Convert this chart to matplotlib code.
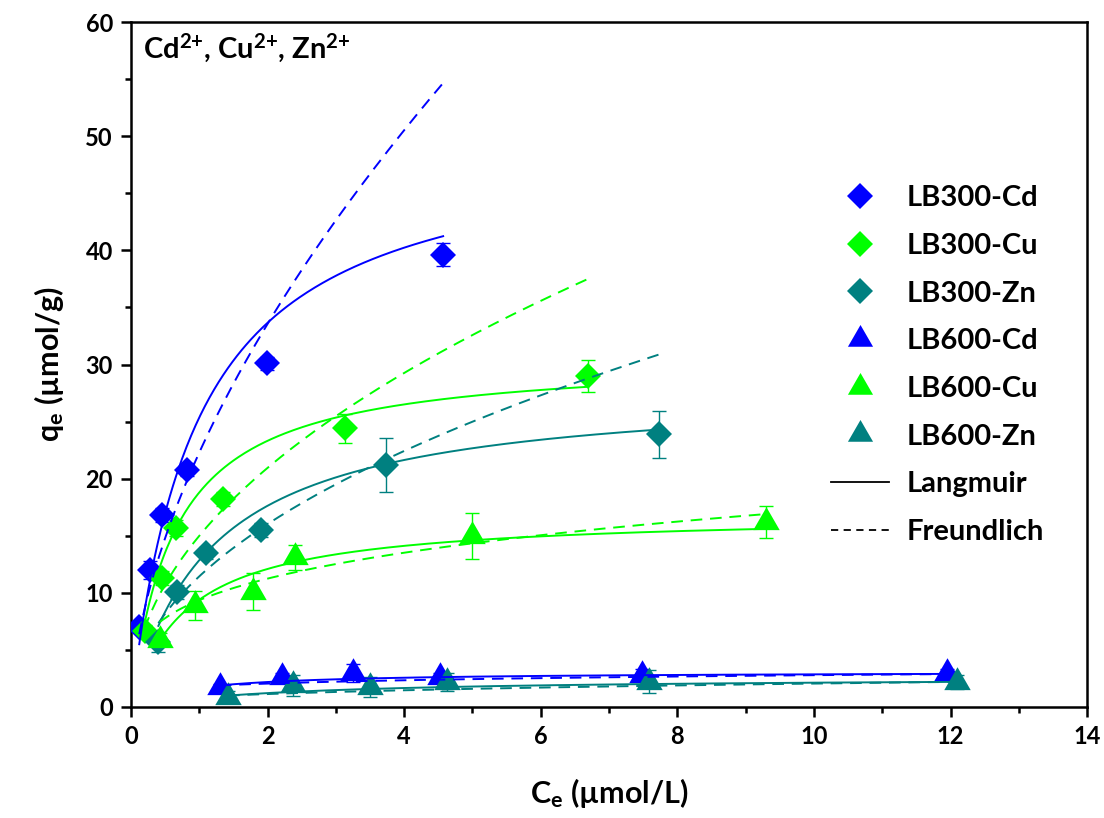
import numpy as np
import matplotlib
matplotlib.use('Agg')
import matplotlib.pyplot as plt
from matplotlib.lines import Line2D

plt.rcParams['font.family'] = ['Lato', 'DejaVu Sans']
plt.rcParams['font.weight'] = 'bold'
plt.rcParams['axes.labelweight'] = 'bold'
plt.rcParams['mathtext.fontset'] = 'custom'
plt.rcParams['mathtext.rm'] = 'Lato:bold'
plt.rcParams['mathtext.it'] = 'Lato:bold'
plt.rcParams['mathtext.bf'] = 'Lato:bold'

# Ölçüm noktaları (Ce, qe, hata)
lb300_cd_x = [0.12, 0.28, 0.45, 0.82, 1.99, 4.57]
lb300_cd_y = [7.0, 12.0, 16.8, 20.8, 30.1, 39.6]
lb300_cd_e = [0.4, 0.8, 0.6, 0.6, 0.6, 1.0]

lb300_cu_x = [0.20, 0.45, 0.66, 1.35, 3.13, 6.69]
lb300_cu_y = [6.7, 11.3, 15.7, 18.2, 24.4, 29.0]
lb300_cu_e = [0.5, 0.6, 0.7, 0.6, 1.3, 1.4]

lb300_zn_x = [0.40, 0.67, 1.10, 1.90, 3.73, 7.73]
lb300_zn_y = [5.7, 10.1, 13.5, 15.5, 21.2, 23.9]
lb300_zn_e = [0.9, 0.6, 0.5, 0.6, 2.4, 2.05]

lb600_cd_x = [1.30, 2.21, 3.25, 4.52, 7.48, 11.95]
lb600_cd_y = [1.75, 2.6, 3.0, 2.6, 2.8, 3.0]
lb600_cd_e = [0.3, 0.4, 0.8, 0.4, 0.5, 0.3]

lb600_cu_x = [0.42, 0.94, 1.79, 2.40, 5.00, 9.30]
lb600_cu_y = [5.9, 8.9, 10.1, 13.1, 15.0, 16.2]
lb600_cu_e = [0.6, 1.3, 1.6, 1.1, 2.0, 1.4]

lb600_zn_x = [1.42, 2.37, 3.50, 4.63, 7.58, 12.09]
lb600_zn_y = [0.9, 1.9, 1.75, 2.2, 2.2, 2.2]
lb600_zn_e = [0.5, 0.9, 0.9, 0.8, 1.0, 0.6]

# Fit parametreleri: Langmuir (qm, KL), Freundlich (KF, 1/n)
langmuir_qm = [50.0, 30.7, 28.0, 3.1, 16.95, 2.62]
langmuir_kl = [1.03, 1.58, 0.85, 1.2, 1.245, 0.435]
freundlich_kf = [22.3, 15.0, 11.45, 1.8, 9.36, 0.88]
freundlich_n_inv = [0.59, 0.482, 0.485, 0.19, 0.265, 0.368]

labels = ['LB300-Cd', 'LB300-Cu', 'LB300-Zn', 'LB600-Cd', 'LB600-Cu', 'LB600-Zn']
colors = ['#0000ff', '#00ff00', '#008080', '#0000ff', '#00ff00', '#008080']

series = [
    (lb300_cd_x, lb300_cd_y, lb300_cd_e),
    (lb300_cu_x, lb300_cu_y, lb300_cu_e),
    (lb300_zn_x, lb300_zn_y, lb300_zn_e),
    (lb600_cd_x, lb600_cd_y, lb600_cd_e),
    (lb600_cu_x, lb600_cu_y, lb600_cu_e),
    (lb600_zn_x, lb600_zn_y, lb600_zn_e),
]

tri = [(-1, -0.5774), (1, -0.5774), (0, 1.1547)]
markers = ['D', 'D', 'D', tri, tri, tri]
msizes = [13.5, 13.5, 13.5, 22, 22, 22]

fig = plt.figure(figsize=(11.04, 8.18), dpi=100)
ax = fig.add_axes([0.1187, 0.1357, 0.866, 0.8374])

for i, (x, y, e) in enumerate(series):
    ax.errorbar(x, y, yerr=e, fmt='none', ecolor=colors[i], elinewidth=1.0,
                capsize=5, capthick=1.0, zorder=2)
    ax.plot(x, y, linestyle='none', marker=markers[i], ms=msizes[i],
            color=colors[i], markeredgewidth=0, zorder=3)

for i, (x, y, e) in enumerate(series):
    xf = np.linspace(min(x), max(x), 200)
    qm, kl = langmuir_qm[i], langmuir_kl[i]
    kf, ni = freundlich_kf[i], freundlich_n_inv[i]
    ax.plot(xf, qm * kl * xf / (1 + kl * xf), color=colors[i], lw=1.4, zorder=4)
    ax.plot(xf, kf * xf ** ni, color=colors[i], lw=1.4, ls=(0, (6, 4)), zorder=4)

ax.set_xlim(0, 14)
ax.set_ylim(0, 60)
ax.set_xticks(np.arange(0, 15, 2))
ax.set_xticks(np.arange(1, 14, 2), minor=True)
ax.set_yticks(np.arange(0, 61, 10))
ax.set_yticks(np.arange(5, 60, 10), minor=True)
ax.tick_params(which='major', direction='out', length=7, width=1.8, labelsize=17, pad=6)
ax.tick_params(which='minor', direction='out', length=4, width=1.8)
for lab in ax.get_xticklabels() + ax.get_yticklabels():
    lab.set_fontweight('bold')
for sp in ax.spines.values():
    sp.set_linewidth(1.8)

ax.set_xlabel('C$_\\mathrm{e}$ (µmol/L)', fontsize=22, fontweight='bold', labelpad=20)
ax.set_ylabel('q$_\\mathrm{e}$ (µmol/g)', fontsize=22, fontweight='bold', labelpad=14)
ax.text(0.012, 0.985, 'Cd$^{\\text{2+}}$, Cu$^{\\text{2+}}$, Zn$^{\\text{2+}}$',
        transform=ax.transAxes, fontsize=21, fontweight='bold', va='top', ha='left')

handles = []
for i in range(6):
    handles.append(Line2D([], [], linestyle='none', marker=markers[i],
                          ms=msizes[i] * 0.95, color=colors[i], markeredgewidth=0,
                          label=labels[i]))
handles.append(Line2D([], [], color='black', lw=1.3, label='Langmuir'))
handles.append(Line2D([], [], color='black', lw=1.3, ls=(0, (4, 3)), label='Freundlich'))

ax.legend(handles=handles, loc='upper left', bbox_to_anchor=(0.72, 0.779),
          frameon=False, fontsize=21, labelspacing=0.745, handlelength=2.0,
          handletextpad=0.6, borderaxespad=0)

fig.savefig('out.png', dpi=100)
